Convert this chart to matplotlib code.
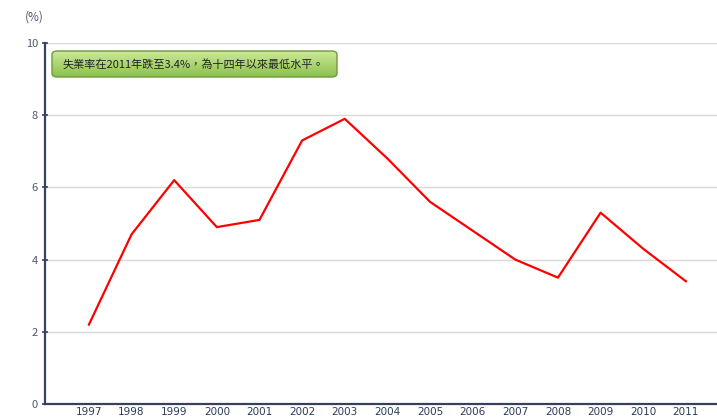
import numpy as np
import matplotlib.pyplot as plt
from matplotlib.patches import FancyBboxPatch

plt.rcParams['font.family'] = ['Noto Sans CJK TC', 'DejaVu Sans']

# Data
years = [1997, 1998, 1999, 2000, 2001, 2002, 2003, 2004,
         2005, 2006, 2007, 2008, 2009, 2010, 2011]
rate = [2.2, 4.7, 6.2, 4.9, 5.1, 7.3, 7.9, 6.8,
        5.6, 4.8, 4.0, 3.5, 5.3, 4.3, 3.4]
yticks = [0, 2, 4, 6, 8, 10]
note = "失業率在2011年跌至3.4%，為十四年以來最低水平。"

W, H = 717, 418
fig = plt.figure(figsize=(W / 100, H / 100), dpi=100)
ax = fig.add_axes([45 / W, 14 / H, 672 / W, 361 / H])

ax.plot(years, rate, color="#ff0000", lw=1.6, zorder=3)

ax.set_xlim(1995.97, 2011.73)
ax.set_ylim(0, 10)
ax.set_xticks(years)
ax.set_xticklabels([str(y) for y in years], family="DejaVu Sans")
ax.set_yticks(yticks)

ax.grid(axis="y", color="#d9d9d9", lw=1)
ax.set_axisbelow(True)
for s in ["top", "right"]:
    ax.spines[s].set_visible(False)
ax.spines["left"].set_color("#34425e")
ax.spines["bottom"].set_color("#34425e")
ax.spines["left"].set_linewidth(1.6)
ax.spines["bottom"].set_linewidth(1.6)

ax.tick_params(axis="x", length=0, pad=2, labelsize=7.5, labelcolor="#2b3a5c")
ax.tick_params(axis="y", length=4, width=1.2, direction="inout", color="#34425e",
               pad=3, labelsize=8, labelcolor="#4c5870")

fig.text(25 / W, 1 - 17 / H, "(%)", fontsize=8.5, color="#4c5870", va="center")

# annotation box with green gradient
x0, y0, x1, y1 = 52 / W, 1 - 77 / H, 337 / W, 1 - 51 / H
box = FancyBboxPatch((x0, y0), x1 - x0, y1 - y0,
                     boxstyle="round,pad=0,rounding_size=0.008",
                     transform=fig.transFigure, facecolor="none",
                     edgecolor="#6f9a3c", lw=1, zorder=5)
fig.add_artist(box)
grad = np.linspace(0, 1, 64).reshape(-1, 1)
top_c = np.array([0.80, 0.91, 0.60])
bot_c = np.array([0.55, 0.76, 0.30])
img = top_c * (1 - grad[..., None]) + bot_c * grad[..., None]
gax = fig.add_axes([0, 0, 1, 1], zorder=4)
gax.set_axis_off()
im = gax.imshow(img, extent=[x0, x1, y0, y1], aspect="auto",
                transform=fig.transFigure, zorder=4)
im.set_clip_path(box)
fig.text(63 / W, 1 - 64 / H, note, fontsize=8, color="#222222",
         va="center", zorder=6)

fig.savefig("out.png", dpi=100)
